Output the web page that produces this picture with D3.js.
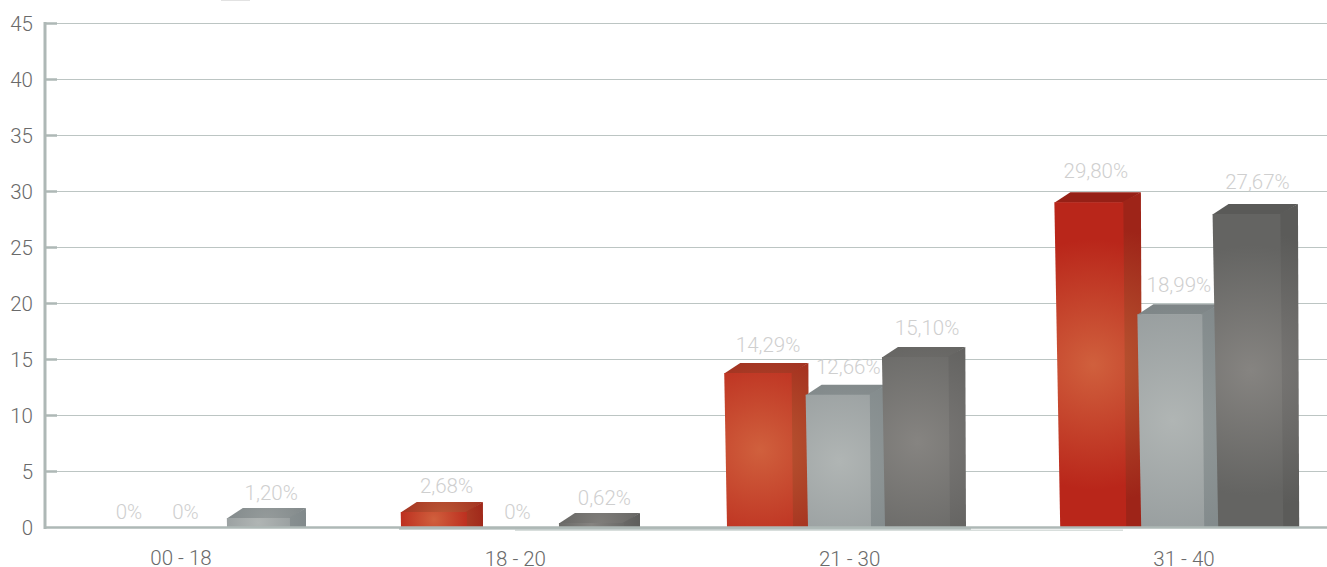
<!DOCTYPE html>
<html><head><meta charset="utf-8">
<script src="https://cdn.jsdelivr.net/npm/d3@7"></script>
<style>
html,body{margin:0;padding:0;background:#fff;overflow:hidden}
svg{display:block}
text{font-family:"Roboto",sans-serif;font-weight:300}
</style></head><body>
<svg id="c" width="1327" height="567"></svg>
<script>
const categories = ["00 - 18","18 - 20","21 - 30","31 - 40"];
const yTicks = [0,5,10,15,20,25,30,35,40,45];
// front-face heights (the labels do not quite agree with the drawn bars)
const seriesA = [0, 1.34, 13.75, 29.0];
const seriesB = [0, 0, 11.8, 19.0];
const seriesC = [0.8, 0.36, 15.18, 27.95];
const labelsA = ["0%","2,68%","14,29%","29,80%"];
const labelsB = ["0%","0%","12,66%","18,99%"];
const labelsC = ["1,20%","0,62%","15,10%","27,67%"];
// colour of each series' bar within each category (first category's third bar is grey)
const tonesA = ["red","red","red","red"];
const tonesB = ["grey","grey","grey","grey"];
const tonesC = ["grey","dark","dark","dark"];

const tones = {
  red:  {w:66, lean:0.032, front:["#d0603d","#b9261a"], side:["#bb5b34","#9e2418"], top:["#bd5a37","#962016"]},
  grey: {w:63, lean:0.032, front:["#b0b5b4","#969c9d"], side:["#939a9a","#7f8789"], top:["#969c9c","#788082"]},
  dark: {w:65, lean:0.02,  front:["#868481","#646462"], side:["#7c7a78","#5b5b59"], top:["#807e7b","#5a5a58"]}
};

const svg = d3.select("#c");
const defs = svg.append("defs");
const glow = (id,c,cx,cy,r)=>{
  const g = defs.append("radialGradient").attr("id",id).attr("gradientUnits","userSpaceOnUse")
    .attr("cx",cx).attr("cy",cy).attr("r",r);
  g.append("stop").attr("offset","0%").attr("stop-color",c[0]);
  g.append("stop").attr("offset","100%").attr("stop-color",c[1]);
  return `url(#${id})`;
};

const y = d3.scaleLinear().domain([0,45]).range([527,23]);
const x = d3.scaleBand().domain(categories).range([69,69+4*330.4]);
const xLabel = d3.scalePoint().domain(categories).range([181,1184]);
const sub = d3.scaleBand().domain([0,1,2]).range([0,237]);
const groupNudge = [0,1.6,-2.8,0];
const seriesNudge = [0,2,0];
const DX = 16, DY = 10;
const axisColor = "#aeb8b6", gridColor = "#bcc5c3", inkColor = "#6a6a6a";

// y axis labels
const axis = svg.append("g").attr("transform","translate(45,0)")
  .call(d3.axisLeft(y).tickValues(yTicks).tickSize(0).tickPadding(12));
axis.select(".domain").remove();
axis.selectAll("text").attr("font-size",20.5).attr("fill",inkColor).style("font-family","Roboto,sans-serif").attr("dy","0.36em");
svg.append("g").selectAll("line").data(yTicks.slice(1)).join("line")
  .attr("x1",56).attr("x2",1327).attr("y1",d=>y(d)+.5).attr("y2",d=>y(d)+.5)
  .attr("stroke",gridColor).attr("stroke-width",1);
svg.append("g").selectAll("line").data(yTicks.slice(1)).join("line")
  .attr("x1",45).attr("x2",57).attr("y1",d=>y(d)+.5).attr("y2",d=>y(d)+.5)
  .attr("stroke",axisColor).attr("stroke-width",2.5);
svg.append("line").attr("x1",45).attr("x2",45).attr("y1",y(45)-1).attr("y2",y(0)+2).attr("stroke",axisColor).attr("stroke-width",3);

// stray rules under the base line and a sliver at the top edge
svg.append("rect").attr("x",515).attr("width",608).attr("y",y(0)+2.6).attr("height",1.2).attr("fill","#cfd6d4");
svg.append("rect").attr("x",399).attr("width",572).attr("y",y(0)+.5).attr("height",2.2).attr("fill","#b7c1bf");
svg.append("rect").attr("x",221).attr("width",29).attr("y",0).attr("height",1).attr("fill","#e2e2e2");

// bars
const rows = [
  {vals:seriesA,labels:labelsA,tones:tonesA},
  {vals:seriesB,labels:labelsB,tones:tonesB},
  {vals:seriesC,labels:labelsC,tones:tonesC}
];
const bars = svg.append("g");
const labels = svg.append("g");
const pts = a => a.map(p=>p.join(",")).join(" ");
categories.forEach((cat,ci)=>{
  rows.forEach((r,si)=>{
    const v = r.vals[ci];
    const x0 = x(cat)+groupNudge[ci]+sub(si)+seriesNudge[si], yB = y(0), yT = y(v), h = yB-yT;
    const t = tones[r.tones[ci]], W = t.w;
    if(v>0){
      const lL = h*0.018, lR = h*0.009, lS = h*0.004;
      const cy = yT+h*0.5, rad = Math.max(40,Math.min(125,h*0.75));
      const id = `b${ci}${si}`;
      const g = bars.append("g");
      const fillTop = glow(id+"t",t.top,x0+W/2+8,cy,rad+24);
      const fillSide = glow(id+"s",t.side,x0+W/2,cy,rad+14);
      const fillFront = glow(id+"f",t.front,x0+W/2,cy,rad);
      g.append("polygon").attr("fill",fillTop).attr("points",pts([
        [x0-lL,yT+.5],[x0+W-lR,yT+.5],[x0+W+DX-lS,yT-DY],[x0+DX-lL,yT-DY]]));
      g.append("polygon").attr("fill",fillSide).attr("points",pts([
        [x0+W-lR-1.5,yT],[x0+W+DX-lS,yT-DY],[x0+W+DX,yB],[x0+W-1.5,yB]]));
      g.append("polygon").attr("fill",fillFront).attr("points",pts([
        [x0-lL,yT],[x0+W-lR,yT],[x0+W,yB],[x0,yB]]));
    }
    const lift = v>0 ? 8 + (h+DY)*0.02 : 8;
    const zeroShift = v>0 ? 0 : (si===0 ? 14 : -9);
    labels.append("text").text(r.labels[ci])
      .attr("x",x0+W/2+13-h*t.lean+zeroShift)
      .attr("y",yT-(v>0?DY:0)-lift)
      .attr("text-anchor","middle").attr("font-size",20.5).attr("fill","#cfcfcf");
  });
});

// base line on top of the bars' feet
svg.append("line").attr("x1",45).attr("x2",1327).attr("y1",y(0)+.5).attr("y2",y(0)+.5).attr("stroke",axisColor).attr("stroke-width",2.5);

// category labels
svg.append("g").selectAll("text").data(categories).join("text")
  .text(d=>d).attr("x",d=>xLabel(d)).attr("y",(d,i)=>i===0?565:566)
  .attr("text-anchor","middle").attr("font-size",20.5).attr("fill",inkColor);
</script>
</body></html>
